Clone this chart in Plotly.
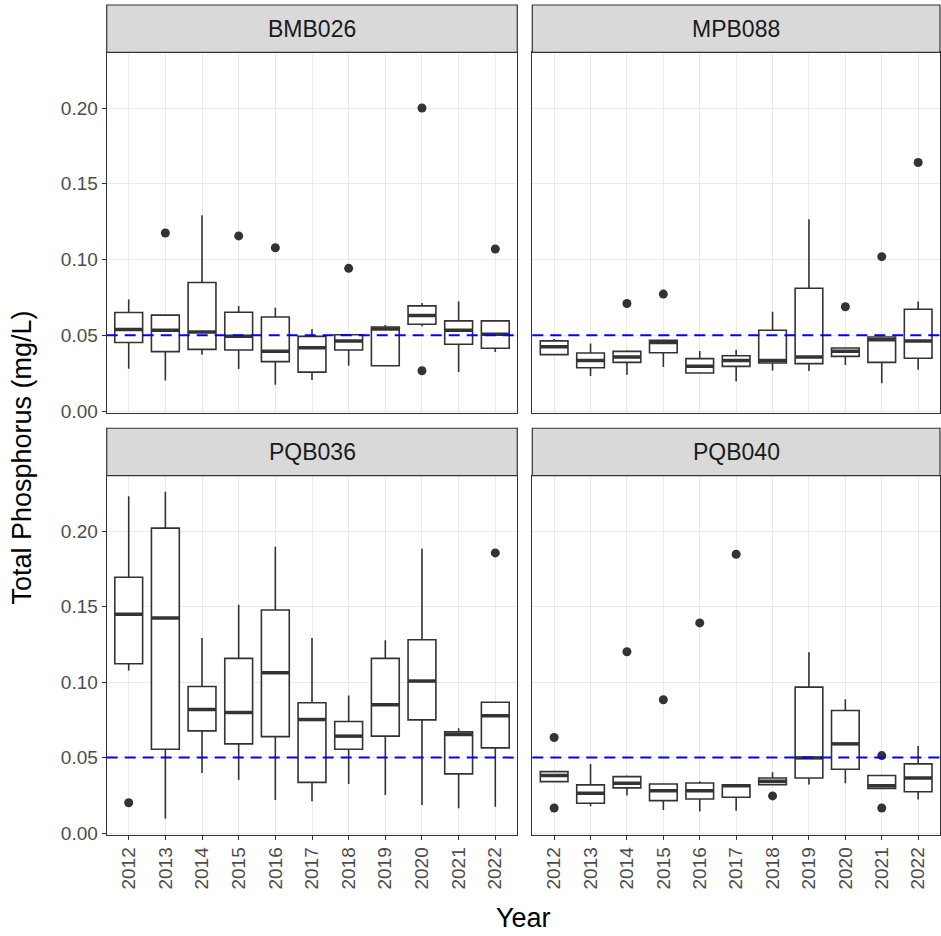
import plotly.graph_objects as go

years = [2012, 2013, 2014, 2015, 2016, 2017, 2018, 2019, 2020, 2021, 2022]
sites = ["BMB026", "MPB088", "PQB036", "PQB040"]

bmb026_lo = [0.0279, 0.0202, 0.0372, 0.0277, 0.0174, 0.0204, 0.0299, 0.0299, 0.0560, 0.0257, 0.0390]
bmb026_q1 = [0.0452, 0.0392, 0.0407, 0.0403, 0.0326, 0.0257, 0.0403, 0.0299, 0.0573, 0.0441, 0.0414]
bmb026_med = [0.0538, 0.0533, 0.0522, 0.0493, 0.0394, 0.0418, 0.0462, 0.0542, 0.0630, 0.0533, 0.0507]
bmb026_q3 = [0.0650, 0.0633, 0.0849, 0.0652, 0.0621, 0.0493, 0.0504, 0.0555, 0.0694, 0.0595, 0.0595]
bmb026_hi = [0.0736, 0.0639, 0.1293, 0.0694, 0.0681, 0.0542, 0.0504, 0.0568, 0.0714, 0.0723, 0.0595]
bmb026_out_x = [2013, 2015, 2016, 2018, 2020, 2020, 2022]
bmb026_out_y = [0.1175, 0.1156, 0.1078, 0.0942, 0.2001, 0.0266, 0.1070]

mpb088_lo = [0.0372, 0.0231, 0.0240, 0.0290, 0.0246, 0.0195, 0.0268, 0.0264, 0.0304, 0.0184, 0.0273]
mpb088_q1 = [0.0372, 0.0286, 0.0321, 0.0385, 0.0251, 0.0295, 0.0317, 0.0313, 0.0361, 0.0321, 0.0348]
mpb088_med = [0.0425, 0.0334, 0.0357, 0.0452, 0.0295, 0.0334, 0.0334, 0.0357, 0.0394, 0.0471, 0.0463]
mpb088_q3 = [0.0463, 0.0383, 0.0394, 0.0467, 0.0346, 0.0365, 0.0533, 0.0811, 0.0416, 0.0489, 0.0672]
mpb088_hi = [0.0476, 0.0445, 0.0401, 0.0467, 0.0396, 0.0405, 0.0655, 0.1266, 0.0416, 0.0489, 0.0723]
mpb088_out_x = [2014, 2015, 2020, 2021, 2022]
mpb088_out_y = [0.0710, 0.0772, 0.0688, 0.1019, 0.1641]

pqb036_lo = [0.1077, 0.0097, 0.0398, 0.0352, 0.0219, 0.0210, 0.0325, 0.0252, 0.0186, 0.0164, 0.0175]
pqb036_q1 = [0.1122, 0.0555, 0.0677, 0.0591, 0.0639, 0.0336, 0.0555, 0.0642, 0.0750, 0.0392, 0.0564]
pqb036_med = [0.1449, 0.1425, 0.0819, 0.0799, 0.1062, 0.0752, 0.0642, 0.0850, 0.1007, 0.0653, 0.0777]
pqb036_q3 = [0.1695, 0.2020, 0.0971, 0.1157, 0.1478, 0.0863, 0.0739, 0.1157, 0.1281, 0.0670, 0.0867]
pqb036_hi = [0.2232, 0.2261, 0.1292, 0.1513, 0.1896, 0.1292, 0.0912, 0.1277, 0.1883, 0.0695, 0.0867]
pqb036_out_x = [2012, 2022]
pqb036_out_y = [0.0201, 0.1856]

pqb040_lo = [0.0341, 0.0177, 0.0248, 0.0153, 0.0142, 0.0148, 0.0321, 0.0321, 0.0330, 0.0296, 0.0223]
pqb040_q1 = [0.0341, 0.0197, 0.0299, 0.0215, 0.0226, 0.0237, 0.0321, 0.0365, 0.0423, 0.0296, 0.0274]
pqb040_med = [0.0381, 0.0263, 0.0330, 0.0281, 0.0281, 0.0314, 0.0343, 0.0498, 0.0591, 0.0314, 0.0365]
pqb040_q3 = [0.0407, 0.0319, 0.0374, 0.0325, 0.0332, 0.0319, 0.0365, 0.0967, 0.0812, 0.0381, 0.0458]
pqb040_hi = [0.0407, 0.0458, 0.0381, 0.0325, 0.0343, 0.0325, 0.0403, 0.1197, 0.0887, 0.0387, 0.0577]
pqb040_out_x = [2012, 2012, 2014, 2015, 2016, 2017, 2018, 2021, 2021]
pqb040_out_y = [0.0633, 0.0166, 0.1201, 0.0883, 0.1392, 0.1847, 0.0246, 0.0513, 0.0166]

y_ticks = [0.0, 0.05, 0.10, 0.15, 0.20]
y_ticktext = ["0.00", "0.05", "0.10", "0.15", "0.20"]
threshold = 0.05

panels = [
    (bmb026_lo, bmb026_q1, bmb026_med, bmb026_q3, bmb026_hi, bmb026_out_x, bmb026_out_y),
    (mpb088_lo, mpb088_q1, mpb088_med, mpb088_q3, mpb088_hi, mpb088_out_x, mpb088_out_y),
    (pqb036_lo, pqb036_q1, pqb036_med, pqb036_q3, pqb036_hi, pqb036_out_x, pqb036_out_y),
    (pqb040_lo, pqb040_q1, pqb040_med, pqb040_q3, pqb040_hi, pqb040_out_x, pqb040_out_y),
]

W, H = 941, 936
KY = 1.011  # vertical compensation
DARK = "#333333"
BOXW = 0.76
FONT = "Liberation Sans, Arial, sans-serif"

def px_x(p):
    return p / W

def px_y(p):
    return 1 - p * KY / H

xdom = [(px_x(106.7), px_x(517.3)), (px_x(532.3), px_x(940.0))]
ydom = [(px_y(412.0), px_y(52.3)), (px_y(833.5), px_y(475.0))]
strip_y = [(5.0, 52.3), (427.7, 475.0)]

fig = go.Figure()
layout = dict(
    width=W, height=H, margin=dict(l=0, r=0, t=0, b=0, pad=0),
    paper_bgcolor="white", plot_bgcolor="white", showlegend=False,
    font=dict(family=FONT, color="#4D4D4D"),
)
shapes = []
annotations = []

for i, (site, (lo, q1, med, q3, hi, ox, oy)) in enumerate(zip(sites, panels)):
    row, col = divmod(i, 2)
    n = i + 1
    xa = "x" if n == 1 else f"x{n}"
    ya = "y" if n == 1 else f"y{n}"
    fig.add_trace(go.Box(
        x=years, q1=q1, median=med, q3=q3, lowerfence=lo, upperfence=hi,
        width=BOXW, whiskerwidth=0, boxpoints=False,
        fillcolor="white", line=dict(color=DARK, width=1.6),
        xaxis=xa, yaxis=ya, hoverinfo="skip",
    ))
    mx, my = [], []
    for yr, m in zip(years, med):
        mx += [yr - BOXW / 2, yr + BOXW / 2, None]
        my += [m, m, None]
    fig.add_trace(go.Scatter(x=mx, y=my, mode="lines",
                             line=dict(color=DARK, width=3.5),
                             xaxis=xa, yaxis=ya, hoverinfo="skip"))
    fig.add_trace(go.Scatter(x=ox, y=oy, mode="markers",
                             marker=dict(color=DARK, size=9),
                             xaxis=xa, yaxis=ya, hoverinfo="skip"))

    bottom = row == 1
    left = col == 0
    layout["xaxis" if n == 1 else f"xaxis{n}"] = dict(
        domain=list(xdom[col]), anchor=ya, range=[2011.4, 2022.6],
        tickmode="array", tickvals=years, ticktext=[str(y) for y in years],
        showticklabels=bottom, ticks="outside" if bottom else "",
        ticklen=4, tickwidth=1, tickcolor=DARK, tickangle=-90,
        tickfont=dict(size=19, color="#4D4D4D", family=FONT),
        showgrid=True, gridcolor="#EBEBEB", gridwidth=1.3, zeroline=False,
        showline=True, mirror=True, linecolor=DARK, linewidth=1.2,
    )
    layout["yaxis" if n == 1 else f"yaxis{n}"] = dict(
        domain=list(ydom[row]), anchor=xa, range=[-0.001, 0.2368],
        tickmode="array", tickvals=y_ticks, ticktext=y_ticktext,
        showticklabels=left, ticks="outside" if left else "",
        ticklen=4, tickwidth=1, tickcolor=DARK,
        tickfont=dict(size=19, color="#4D4D4D", family=FONT),
        showgrid=True, gridcolor="#EBEBEB", gridwidth=1.3, zeroline=False,
        showline=True, mirror=True, linecolor=DARK, linewidth=1.2,
    )
    shapes.append(dict(type="line", xref=f"{xa} domain", yref=ya,
                       x0=0, x1=1, y0=threshold, y1=threshold,
                       line=dict(color="blue", width=2, dash="11px,7px"),
                       layer="above"))
    s0, s1 = strip_y[row]
    shapes.append(dict(type="rect", xref="paper", yref="paper",
                       x0=xdom[col][0], x1=xdom[col][1],
                       y0=px_y(s1), y1=px_y(s0),
                       fillcolor="#D9D9D9", line=dict(color=DARK, width=1.2)))
    annotations.append(dict(text=site, xref="paper", yref="paper",
                            x=(xdom[col][0] + xdom[col][1]) / 2,
                            y=px_y((s0 + s1) / 2), showarrow=False,
                            xanchor="center", yanchor="middle",
                            font=dict(size=23, color="#1A1A1A", family=FONT)))

annotations.append(dict(text="Total Phosphorus (mg/L)", xref="paper", yref="paper",
                        x=px_x(22), y=px_y(457), textangle=-90, showarrow=False,
                        xanchor="center", yanchor="middle",
                        font=dict(size=27, color="black", family=FONT)))
annotations.append(dict(text="Year", xref="paper", yref="paper",
                        x=px_x(523), y=px_y(917), showarrow=False,
                        xanchor="center", yanchor="middle",
                        font=dict(size=27, color="black", family=FONT)))

layout["shapes"] = shapes
layout["annotations"] = annotations
fig.update_layout(**layout)

post = (
    "var d=document.documentElement,b=document.body;"
    "d.style.margin='0';d.style.padding='0';d.style.overflow='hidden';"
    "b.style.margin='0';b.style.padding='0';b.style.overflow='hidden';"
)
fig.write_html("out.html", config={"displayModeBar": False}, post_script=post)
